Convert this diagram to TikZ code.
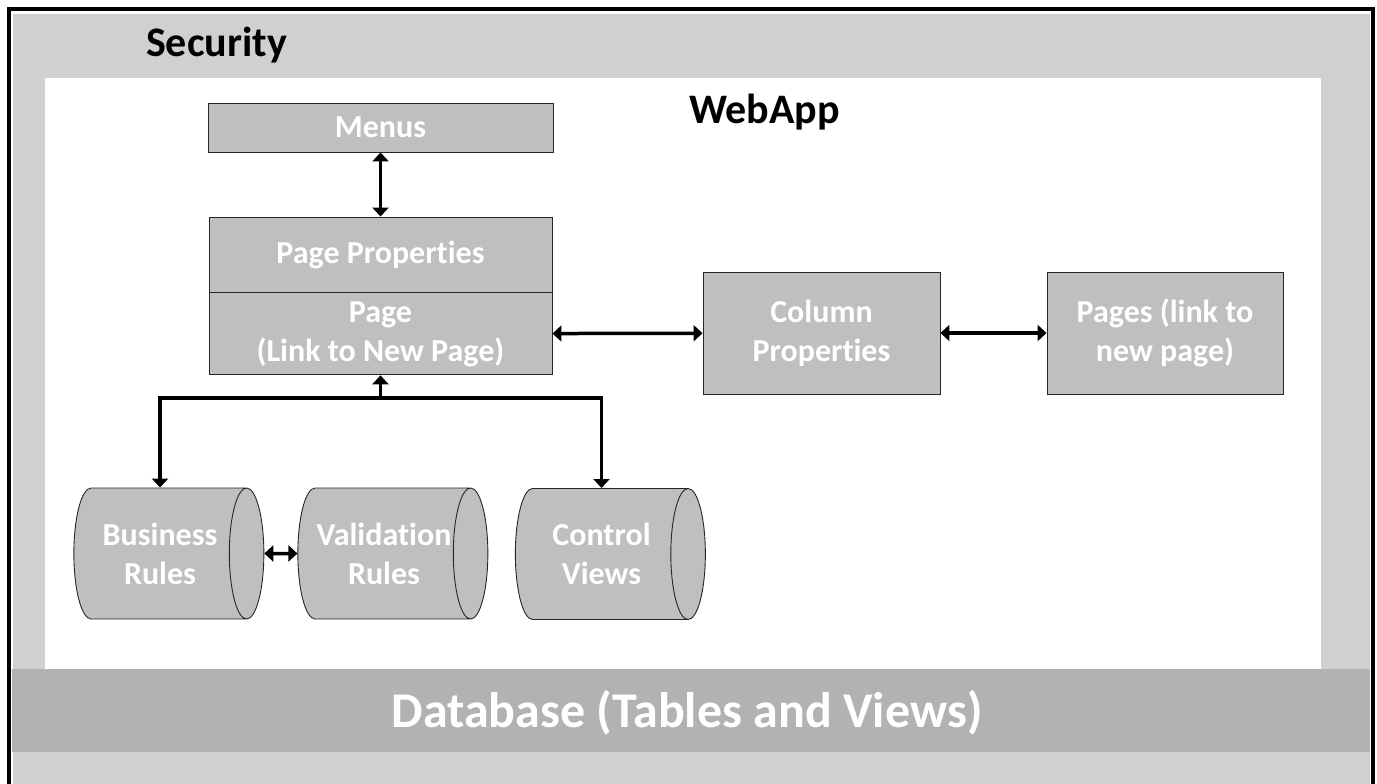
\documentclass[tikz,border=0pt]{standalone}
\usepackage{fontspec}
\setmainfont{Carlito}[Ligatures=NoCommon]
\usetikzlibrary{arrows.meta,shapes.geometric,positioning}

\definecolor{framegray}{HTML}{D0D0D0}
\definecolor{bandgray}{HTML}{B2B2B2}
\definecolor{boxgray}{HTML}{BFBFBF}

\tikzset{
  box/.style={draw=black!85, line width=0.9pt, fill=boxgray, text=white,
    font=\bfseries\fontsize{32}{39}\selectfont, align=center, inner sep=0pt},
  store/.style={cylinder, aspect=0.56, draw=black!85, line width=0.9pt, fill=boxgray,
    text=white, font=\bfseries\fontsize{32}{39}\selectfont, align=center,
    inner sep=0pt, minimum width=131, minimum height=190},
  link/.style={line width=3.5pt, -{Triangle[length=9pt,width=16pt]}},
  link both/.style={line width=3.5pt, {Triangle[length=9pt,width=16pt]}-{Triangle[length=9pt,width=16pt]}},
}

\begin{document}
\begin{tikzpicture}[x=1pt,y=-1pt]
\useasboundingbox (0,0) rectangle (1377,784);
% frame, webapp area and database band
\draw[line width=4pt] (8.7,8.7) rectangle (1373,800);
\fill[framegray] (12.5,14) rectangle (1369.5,800);
\fill[white] (45,78) rectangle (1321,669);
\fill[bandgray] (12,669) rectangle (1370,752);

\node[anchor=base, font=\bfseries\fontsize{42}{50}\selectfont] (security) at (216.5,57) {Security};
\node[anchor=base, font=\bfseries\fontsize{42}{50}\selectfont] (webapp) at (764.5,123) {WebApp};
\node[anchor=base, text=white, font=\bfseries\fontsize{50}{60}\selectfont] (database) at (687,727) {Database (Tables and Views)};

% pages
\node[box, minimum width=345, minimum height=49] (menus) at (380.5,127.5) {Menus};
\node[box, minimum width=343, minimum height=75] (pageprops) at (380.5,254.5) {Page Properties};
\node[box, minimum width=343, minimum height=82, below=0pt of pageprops] (page) {Page\\(Link to New Page)};
\node[box, minimum width=237, minimum height=122] (colprops) at (821.5,333) {Column\\Properties};
\node[box, minimum width=236, minimum height=122] (newpages) at (1165,333) {Pages (link to\\new page)};

% rules and views
\node[store] (business) at (160,553.5) {Business\\Rules};
\node[store] (validation) at (384,553.5) {Validation\\Rules};
\node[store] (ctrlviews) at (601.5,554) {Control\\Views};

\draw[link both] (menus) -- (pageprops);
\draw[link both] (page) -- (colprops);
\draw[link both] (colprops) -- (newpages);
\draw[link both] (business) -- (validation);

\coordinate (fork) at (380.5,398);
\draw[link] (fork) -- (page);
\draw[link] (fork) -| (business.north);
\draw[link] (fork) -| (ctrlviews.north);
\end{tikzpicture}
\end{document}
